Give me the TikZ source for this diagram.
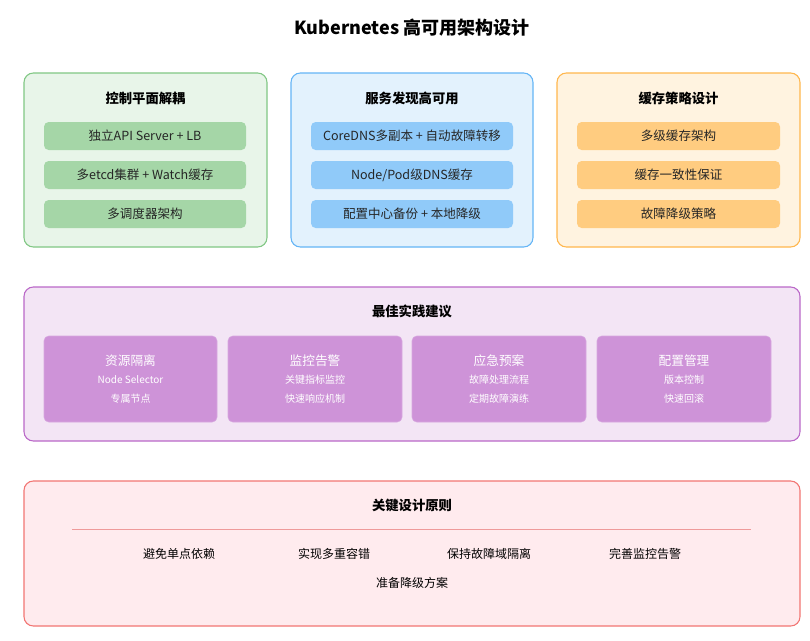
\documentclass[tikz,border=0pt]{standalone}
\usepackage{fontspec}
\setmainfont{Noto Sans CJK SC}
\definecolor{gbg}{HTML}{E8F5E9}\definecolor{gbd}{HTML}{81C784}\definecolor{git}{HTML}{A5D6A7}
\definecolor{bbg}{HTML}{E3F2FD}\definecolor{bbd}{HTML}{64B5F6}\definecolor{bit}{HTML}{90CAF9}
\definecolor{obg}{HTML}{FFF3E0}\definecolor{obd}{HTML}{FFB74D}\definecolor{oit}{HTML}{FFCC80}
\definecolor{pbg}{HTML}{F3E5F5}\definecolor{pbd}{HTML}{BA68C8}\definecolor{pit}{HTML}{CE93D8}
\definecolor{rbg}{HTML}{FFEBEE}\definecolor{rbd}{HTML}{EF5350}\definecolor{rln}{HTML}{EF9A9A}
\begin{document}
\begin{tikzpicture}[x=0.75pt,y=-0.75pt,
  panel/.style={rounded corners=7pt,line width=0.8pt},
  item/.style={rounded corners=3.5pt,draw=none},
  ptitle/.style={font=\bfseries\fontsize{10}{12}\selectfont,text=black},
  itxt/.style={font=\fontsize{9.4}{11}\selectfont,text=black!85},
  wtitle/.style={font=\fontsize{9.5}{11}\selectfont,text=white},
  wtxt/.style={font=\fontsize{7.5}{9}\selectfont,text=white},
  rtxt/.style={font=\fontsize{9}{11}\selectfont,text=black}]
\useasboundingbox[fill=white] (0,0) rectangle (810,640);
\node[font=\bfseries\fontsize{13.5}{16}\selectfont] (title) at (412,28) {Kubernetes 高可用架构设计};
% top panels
\draw[panel,fill=gbg,draw=gbd] (24,73) rectangle (267,247);
\draw[panel,fill=bbg,draw=bbd] (291,73) rectangle (533,247);
\draw[panel,fill=obg,draw=obd] (557,73) rectangle (800,247);
\node[ptitle] (g0) at (145.5,98) {控制平面解耦};
\node[ptitle] (b0) at (412,98) {服务发现高可用};
\node[ptitle] (o0) at (678.5,98) {缓存策略设计};
\foreach \y/\t in {122/{独立API Server + LB},161/{多etcd集群 + Watch缓存},200/{多调度器架构}}{
  \fill[item,git] (44,\y) rectangle (246,\y+28);
  \node[itxt] at (145,\y+14) {\t};}
\foreach \y/\t in {122/{CoreDNS多副本 + 自动故障转移},161/{Node/Pod级DNS缓存},200/{配置中心备份 + 本地降级}}{
  \fill[item,bit] (311,\y) rectangle (513,\y+28);
  \node[itxt] at (412,\y+14) {\t};}
\foreach \y/\t in {122/{多级缓存架构},161/{缓存一致性保证},200/{故障降级策略}}{
  \fill[item,oit] (577,\y) rectangle (780,\y+28);
  \node[itxt] at (678.5,\y+14) {\t};}
% best practices
\draw[panel,fill=pbg,draw=pbd] (24,287) rectangle (800,441);
\node[ptitle] (p0) at (412,311) {最佳实践建议};
\foreach \xa/\xb/\t/\la/\lb in {44/217/资源隔离/Node Selector/专属节点,228/402/监控告警/关键指标监控/快速响应机制,412/586/应急预案/故障处理流程/定期故障演练,597/771/配置管理/版本控制/快速回滚}{
  \draw[item,fill=pit,draw=pit!80!white,line width=0.4pt] (\xa,336) rectangle (\xb,422);
  \node[wtitle] at ({(\xa+\xb)/2},361) {\t};
  \node[wtxt] at ({(\xa+\xb)/2},380) {\la};
  \node[wtxt] at ({(\xa+\xb)/2},399) {\lb};}
% principles
\draw[panel,fill=rbg,draw=rbd!80!white] (24,481) rectangle (800,626);
\node[ptitle] (r0) at (412,505) {关键设计原则};
\draw[rln,line width=0.6pt] (72,529) -- (751,529);
\node[rtxt] at (179,554) {避免单点依赖};
\node[rtxt] at (334,554) {实现多重容错};
\node[rtxt] at (489,554) {保持故障域隔离};
\node[rtxt] at (645,554) {完善监控告警};
\node[rtxt] at (412,583) {准备降级方案};
\end{tikzpicture}
\end{document}
